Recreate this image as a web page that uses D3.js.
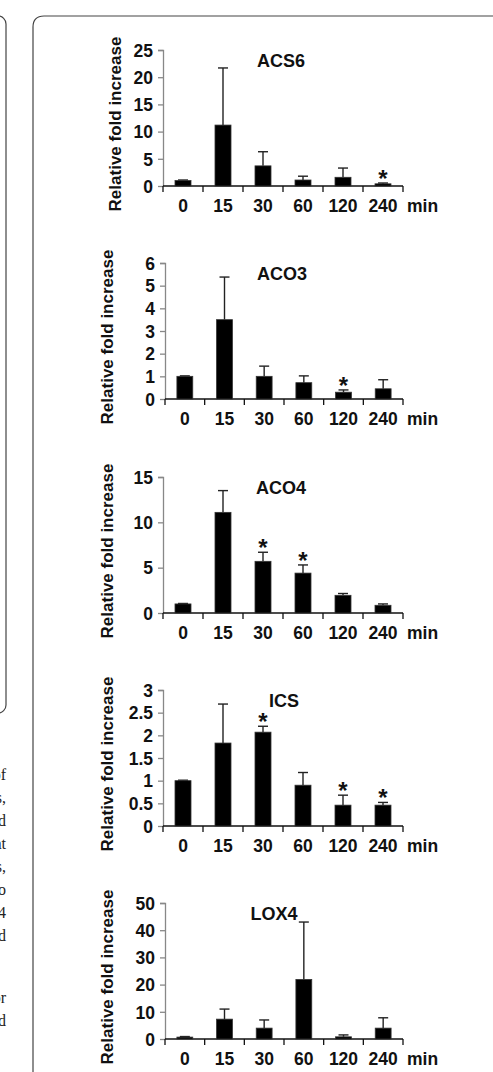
<!DOCTYPE html>
<html>
<head>
<meta charset="utf-8">
<script src="https://cdn.jsdelivr.net/npm/d3@7"></script>
<style>
  body { margin: 0; background: #fff; }
  svg { display: block; }
  .tick text { font-family: "Liberation Sans", Arial, sans-serif; font-weight: bold; font-size: 17.5px; fill: #111; }
</style>
</head>
<body>
<svg id="fig" width="493" height="1072"></svg>
<script>
var genes = ["ACS6", "ACO3", "ACO4", "ICS", "LOX4"];
var times = ["0", "15", "30", "60", "120", "240"];
var yMax = [25, 6, 15, 3, 50];
var yTicks = [
  [0, 5, 10, 15, 20, 25],
  [0, 1, 2, 3, 4, 5, 6],
  [0, 5, 10, 15],
  [0, 0.5, 1, 1.5, 2, 2.5, 3],
  [0, 10, 20, 30, 40, 50]
];
var means = [
  [1.0, 11.2, 3.7, 1.1, 1.6, 0.4],
  [1.0, 3.5, 1.0, 0.72, 0.3, 0.45],
  [1.0, 11.1, 5.7, 4.4, 1.95, 0.85],
  [1.0, 1.83, 2.07, 0.9, 0.46, 0.46],
  [0.7, 7.3, 4.0, 21.9, 0.8, 4.0]
];
var errors = [
  [0.1, 10.5, 2.6, 0.7, 1.7, 0.15],
  [0.02, 1.88, 0.45, 0.3, 0.1, 0.4],
  [0.05, 2.4, 1.0, 0.9, 0.2, 0.15],
  [0.01, 0.86, 0.13, 0.28, 0.22, 0.06],
  [0.2, 3.7, 3.0, 21.1, 0.7, 3.8]
];
var stars = [
  [0, 0, 0, 0, 0, 1],
  [0, 0, 0, 0, 1, 0],
  [0, 0, 1, 1, 0, 0],
  [0, 0, 1, 0, 1, 1],
  [0, 0, 0, 0, 0, 0]
];
var sideText = ["of", "s,", "nd", "at", "s,", "to", "24", "nd", "or", "nd"];

var svg = d3.select("#fig");
var font = "'Liberation Sans', Arial, sans-serif";

// frames of the neighbouring panel and of this figure
svg.append("rect")
    .attr("x", -30).attr("y", 16)
    .attr("width", 36).attr("height", 697)
    .attr("rx", 8)
    .style("fill", "none").style("stroke", "#444").style("stroke-width", 1.2);

svg.append("path")
    .attr("d", "M33,1080 V27 Q33,16 44,16 H500")
    .style("fill", "none").style("stroke", "#444").style("stroke-width", 1.2);

svg.selectAll(".side")
    .data(sideText)
  .enter().append("text")
    .attr("class", "side")
    .attr("x", 6)
    .attr("y", function(d, i) { return i < 8 ? 780 + i * 23 : 1003 + (i - 8) * 23; })
    .attr("text-anchor", "end")
    .style("font-family", "'Liberation Serif', 'Times New Roman', serif")
    .style("font-size", "16px")
    .style("fill", "#222")
    .text(function(d) { return d; });

var panelTop = [50, 263, 477, 690, 903],
    plotLeft = [163, 165, 163, 163, 165],
    labelX = [115, 107, 107, 107, 107],
    titleX = [281, 282, 281, 284, 274],
    plotRight = 403,
    plotH = 136;

genes.forEach(function(gene, p) {
  var g = svg.append("g")
      .attr("transform", "translate(0," + panelTop[p] + ")");

  var x = d3.scaleBand()
      .domain(times)
      .range([plotLeft[p], plotRight])
      .paddingInner(0.6)
      .paddingOuter(0.3);

  var y = d3.scaleLinear()
      .domain([0, yMax[p]])
      .range([plotH, 0]);

  var rows = times.map(function(t, i) {
    return {t: t, m: means[p][i], e: errors[p][i], s: stars[p][i]};
  });

  // y axis
  var ya = g.append("g")
      .attr("transform", "translate(" + plotLeft[p] + ",0)")
      .call(d3.axisLeft(y).tickValues(yTicks[p]).tickSize(5).tickPadding(5)
        .tickFormat(function(d) { return String(d); }));
  ya.select(".domain").style("stroke", "#888").style("stroke-width", 1.3)
      .attr("d", "M-5,0.5H0.5V" + plotH);
  ya.selectAll(".tick line").style("stroke", "#888").style("stroke-width", 1.3);
  ya.selectAll(".tick text").attr("dy", "0.36em");

  // x axis line and boundary ticks
  g.append("line")
      .attr("x1", plotLeft[p]).attr("x2", plotRight)
      .attr("y1", plotH).attr("y2", plotH)
      .style("stroke", "#111").style("stroke-width", 1.4);

  g.selectAll(".xt")
      .data(d3.range(times.length + 1))
    .enter().append("line")
      .attr("class", "xt")
      .attr("x1", function(i) { return plotLeft[p] + i * (plotRight - plotLeft[p]) / times.length; })
      .attr("x2", function(i) { return plotLeft[p] + i * (plotRight - plotLeft[p]) / times.length; })
      .attr("y1", plotH).attr("y2", plotH + 6)
      .style("stroke", "#111").style("stroke-width", 1.3);

  g.selectAll(".xl")
      .data(times)
    .enter().append("text")
      .attr("class", "xl")
      .attr("x", function(d) { return x(d) + x.bandwidth() / 2; })
      .attr("y", plotH + 26)
      .attr("text-anchor", "middle")
      .style("font-family", font).style("font-weight", "bold").style("font-size", "17.5px")
      .style("fill", "#111")
      .text(function(d) { return d; });

  g.append("text")
      .attr("x", plotRight + 4)
      .attr("y", plotH + 26)
      .style("font-family", font).style("font-weight", "bold").style("font-size", "17.5px")
      .style("fill", "#111")
      .text("min");

  // error whiskers (upper only)
  g.selectAll(".err")
      .data(rows)
    .enter().append("line")
      .attr("class", "err")
      .attr("x1", function(d) { return x(d.t) + x.bandwidth() / 2; })
      .attr("x2", function(d) { return x(d.t) + x.bandwidth() / 2; })
      .attr("y1", function(d) { return y(d.m); })
      .attr("y2", function(d) { return y(d.m + d.e); })
      .style("stroke", "#222").style("stroke-width", 1.4);

  g.selectAll(".cap")
      .data(rows)
    .enter().append("line")
      .attr("class", "cap")
      .attr("x1", function(d) { return x(d.t) + x.bandwidth() / 2 - 5; })
      .attr("x2", function(d) { return x(d.t) + x.bandwidth() / 2 + 5; })
      .attr("y1", function(d) { return y(d.m + d.e); })
      .attr("y2", function(d) { return y(d.m + d.e); })
      .style("stroke", "#222").style("stroke-width", 1.4);

  g.selectAll(".bar")
      .data(rows)
    .enter().append("rect")
      .attr("class", "bar")
      .attr("x", function(d) { return x(d.t); })
      .attr("y", function(d) { return y(d.m); })
      .attr("width", x.bandwidth())
      .attr("height", function(d) { return plotH - y(d.m); })
      .style("fill", "#000")
      .style("stroke", "#333").style("stroke-width", 0.8);

  g.selectAll(".star")
      .data(rows.filter(function(d) { return d.s; }))
    .enter().append("text")
      .attr("class", "star")
      .attr("x", function(d) { return x(d.t) + x.bandwidth() / 2; })
      .attr("y", function(d) { return y(d.m + d.e) + 4; })
      .attr("text-anchor", "middle")
      .style("font-family", font).style("font-weight", "bold").style("font-size", "24px")
      .style("fill", "#111")
      .text("*");

  // title
  g.append("text")
      .attr("x", titleX[p])
      .attr("y", 16.5)
      .attr("text-anchor", "middle")
      .style("font-family", font).style("font-weight", "bold").style("font-size", "18px")
      .style("fill", "#111")
      .text(gene);

  // y label
  g.append("text")
      .attr("transform", "translate(" + (labelX[p] + 6) + "," + (plotH / 2 + 6) + ")rotate(-90)")
      .attr("text-anchor", "middle")
      .style("font-family", font).style("font-weight", "bold").style("font-size", "17px")
      .style("fill", "#111")
      .text("Relative fold increase");
});
</script>
</body>
</html>
